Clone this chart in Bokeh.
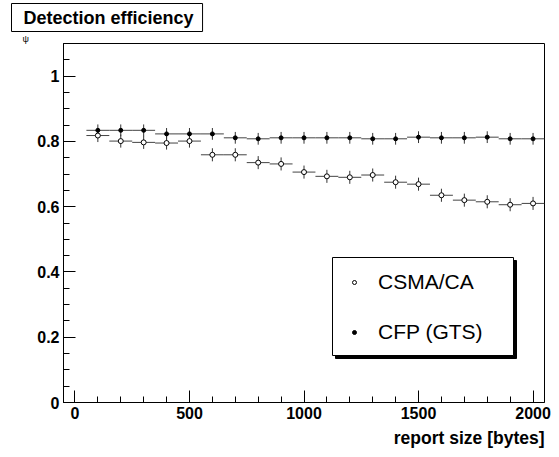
from bokeh.plotting import figure
from bokeh.models import (Range1d, SingleIntervalTicker, ColumnDataSource, Title,
                          BoxAnnotation, Legend, LegendItem, NumeralTickFormatter)
from bokeh.embed import file_html
from bokeh.resources import INLINE

# ---- data ----
report_size = [100, 200, 300, 400, 500, 600, 700, 800, 900, 1000,
               1100, 1200, 1300, 1400, 1500, 1600, 1700, 1800, 1900, 2000]
bin_half_width = 50
csma_eff = [0.818, 0.801, 0.797, 0.795, 0.801, 0.759, 0.759, 0.735, 0.731, 0.706,
            0.693, 0.690, 0.697, 0.675, 0.669, 0.635, 0.620, 0.615, 0.606, 0.610]
csma_err = [0.020, 0.020, 0.020, 0.020, 0.020, 0.020, 0.020, 0.020, 0.020, 0.020,
            0.020, 0.020, 0.020, 0.020, 0.020, 0.020, 0.020, 0.020, 0.020, 0.020]
cfp_eff = [0.834, 0.834, 0.834, 0.823, 0.823, 0.823, 0.811, 0.808, 0.811, 0.811,
           0.811, 0.811, 0.808, 0.808, 0.813, 0.811, 0.811, 0.813, 0.808, 0.808]
cfp_err = [0.018, 0.018, 0.018, 0.018, 0.018, 0.018, 0.018, 0.018, 0.018, 0.018,
           0.018, 0.018, 0.018, 0.018, 0.018, 0.018, 0.018, 0.018, 0.018, 0.018]
x_ticks_major = 500
y_ticks_major = 0.2

FONT = "Liberation Sans"

p = figure(width=559, height=457, output_backend="svg", toolbar_location=None,
           x_range=Range1d(-50, 2050), y_range=Range1d(0, 1.1),
           min_border_left=63, min_border_right=15, min_border_top=43, min_border_bottom=55,
           title="Detection efficiency")
p.grid.visible = False
p.background_fill_color = "white"
p.border_fill_color = "white"
p.outline_line_color = "black"
p.outline_line_width = 1

# small y symbol, just above the frame, left of it
p.add_layout(Title(text="ψ", align="left", offset=-41, standoff=0, text_font=FONT,
                   text_font_style="normal", text_font_size="9px", text_color="black"),
             "above")

# title box
t = p.title
t.align = "left"
t.offset = -52
t.standoff = 0
t.text_font = FONT
t.text_font_style = "bold"
t.text_font_size = "18px"
t.text_color = "black"
t.background_fill_color = "white"
t.border_line_color = "black"
t.border_line_width = 1
try:
    t.padding = dict(left=12, right=9, top=4, bottom=4)
except Exception:
    try:
        t.padding = 4
    except Exception:
        pass

for ax in (p.xaxis[0], p.yaxis[0]):
    ax.major_tick_in = 12
    ax.major_tick_out = 0
    ax.minor_tick_in = 6
    ax.minor_tick_out = 0
    ax.axis_line_color = "black"
    ax.major_tick_line_color = "black"
    ax.minor_tick_line_color = "black"
    ax.major_label_text_font = FONT
    ax.major_label_text_font_style = "bold"
    ax.major_label_text_font_size = "16px"
    ax.major_label_text_color = "black"

p.xaxis[0].ticker = SingleIntervalTicker(interval=x_ticks_major, num_minor_ticks=5)
p.yaxis[0].ticker = SingleIntervalTicker(interval=y_ticks_major, num_minor_ticks=4)
p.yaxis[0].formatter = NumeralTickFormatter(format="0.[0]")
p.xaxis[0].major_label_standoff = 4
p.yaxis[0].major_label_standoff = 4

# x axis title
p.add_layout(Title(text="report size [bytes]", align="right", text_font=FONT,
                   text_font_style="bold", text_font_size="17.5px", text_color="black",
                   standoff=9), "below")


def make_src(xs, ys, es):
    return ColumnDataSource(dict(
        x=xs, y=ys,
        x0=[x - bin_half_width for x in xs], x1=[x + bin_half_width for x in xs],
        ylo=[y - e for y, e in zip(ys, es)], yhi=[y + e for y, e in zip(ys, es)],
    ))


src_csma = make_src(report_size, csma_eff, csma_err)
src_cfp = make_src(report_size, cfp_eff, cfp_err)

for src in (src_csma, src_cfp):
    p.segment(x0="x0", y0="y", x1="x1", y1="y", source=src, line_color="#444444", line_width=1)
    p.segment(x0="x", y0="ylo", x1="x", y1="yhi", source=src, line_color="#333333", line_width=1)

r_csma = p.scatter(x="x", y="y", source=src_csma, marker="circle", size=5,
                   fill_color="white", line_color="black", line_width=1)
r_cfp = p.scatter(x="x", y="y", source=src_cfp, marker="circle", size=4,
                  fill_color="black", line_color="black", line_width=1)

# legend box with shadow (frame-relative screen units)
p.add_layout(BoxAnnotation(left=272, right=453, bottom=44, top=142,
                           left_units="screen", right_units="screen",
                           bottom_units="screen", top_units="screen",
                           fill_color="black", fill_alpha=1, line_color="black", line_alpha=1))
p.add_layout(BoxAnnotation(left=269, right=450, bottom=47, top=145,
                           left_units="screen", right_units="screen",
                           bottom_units="screen", top_units="screen",
                           fill_color="white", fill_alpha=1, line_color="black", line_alpha=1,
                           line_width=1))

legend = Legend(items=[LegendItem(label="CSMA/CA", renderers=[r_csma]),
                       LegendItem(label="CFP (GTS)", renderers=[r_cfp])],
                location=(286, 58), padding=0, margin=0, spacing=26,
                glyph_width=10, glyph_height=22, label_height=22, label_standoff=19,
                label_text_font=FONT, label_text_font_size="21px", label_text_color="black",
                border_line_color=None, background_fill_alpha=0)
p.add_layout(legend, "center")

open("out.html", "w").write(file_html(p, INLINE))
